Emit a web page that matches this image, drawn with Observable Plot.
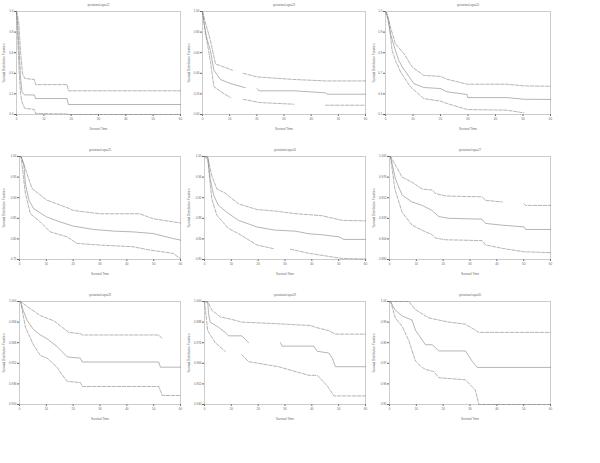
<!DOCTYPE html>
<html><head><meta charset="utf-8">
<script src="https://cdn.jsdelivr.net/npm/d3@7"></script>
<script src="https://cdn.jsdelivr.net/npm/@observablehq/plot@0.6"></script>
<style>
body{margin:0;background:#fff;}
#wrap{position:relative;width:600px;height:463px;overflow:hidden;}
.panel{position:absolute;}
</style></head><body><div id="wrap"></div>
<script>
// ---- data: [time, survival] pairs (null = gap in band) ----
const ages = [22, 23, 24, 25, 26, 27, 28, 29, 30];
const xTicks = [0, 10, 20, 30, 40, 50, 60];
const yLows = [0, 0, 0.5, 0.75, 0.80, 0.88, 0.92, 0.94, 0.95];
const yDigits = [1, 2, 1, 2, 2, 3, 3, 3, 2];

const surv22 = [[0,1],[0.5,0.85],[1,0.6],[1.5,0.35],[2,0.22],[3,0.19],[6.5,0.19],[7,0.155],[18.5,0.155],[19,0.097],[60,0.097]];
const upper22 = [[0,1],[0.8,0.9],[1.5,0.6],[2.2,0.4],[3,0.35],[6.5,0.34],[7,0.29],[18.5,0.29],[19,0.23],[60,0.23]];
const lower22 = [[0,1],[0.5,0.7],[1,0.4],[1.5,0.2],[2,0.12],[3,0.06],[6.5,0.05],[7,0.01],[18.5,0.005],[19,0],[60,0]];

const surv23 = [[0,1],[0.5,0.9],[1.5,0.75],[2.9,0.62],[4.2,0.43],[6.6,0.34],[10.3,0.30],[15.8,0.26],[17,null],[20.1,0.25],[20.7,0.23],[33.6,0.23],[45.3,0.21],[45.9,0.197],[60,0.197]];
const upper23 = [[0,1],[1,0.9],[2.9,0.72],[4.8,0.49],[8,0.46],[11,0.43],[12,null],[15,0.40],[20.1,0.365],[33.6,0.34],[45.3,0.326],[60,0.326]];
const lower23 = [[0,1],[1,0.8],[2.9,0.52],[4.2,0.27],[8,0.2],[10.3,0.165],[12,null],[15,0.148],[21,0.116],[33.6,0.1],[35,null],[45.3,0.09],[60,0.09]];

const surv24 = [[0,1],[0.6,0.98],[1.8,0.892],[3.6,0.811],[4.8,0.763],[6.1,0.731],[10.3,0.65],[13.9,0.631],[20,0.626],[22.4,0.61],[29.7,0.597],[29.9,0.582],[44.2,0.582],[50.3,0.574],[60,0.573]];
const upper24 = [[0,1],[0.6,0.99],[1.8,0.924],[3.6,0.844],[6.7,0.795],[9.7,0.731],[13.9,0.69],[20,0.685],[22.4,0.671],[29.7,0.647],[44.2,0.647],[50.3,0.639],[60,0.637]];
const lower24 = [[0,1],[1.2,0.956],[2.4,0.811],[3.6,0.763],[5.5,0.706],[9.1,0.634],[13.9,0.577],[20,0.565],[22.4,0.553],[29.7,0.524],[44.2,0.521],[50.3,0.508]];

const surv25 = [[0,1],[0.6,1],[1.6,0.982],[2.2,0.934],[3.5,0.894],[5.3,0.873],[10.2,0.853],[15.2,0.841],[20.1,0.831],[27.5,0.823],[34.9,0.819],[42.3,0.817],[49.8,0.813],[57.2,0.801],[60,0.797]];
const upper25 = [[0,1],[0.6,1],[2.8,0.958],[4.7,0.922],[10.2,0.894],[17.7,0.876],[20.1,0.869],[30,0.861],[44.8,0.861],[49.8,0.849],[59.6,0.839],[60,0.839]];
const lower25 = [[0,1],[0.6,0.998],[2.2,0.91],[4.1,0.861],[7.8,0.841],[11.5,0.817],[17.7,0.805],[21.4,0.789],[30,0.785],[42.3,0.781],[48.5,0.773],[57.2,0.765],[60,0.752]];

const surv26 = [[0,1],[1.2,0.999],[2.1,0.957],[3.4,0.925],[5.2,0.905],[9,0.889],[12.7,0.876],[19.6,0.863],[26.4,0.857],[33.9,0.855],[38.9,0.85],[43.8,0.848],[50.1,0.844],[51.9,0.839],[60,0.839]];
const upper26 = [[0,1],[1.2,0.999],[2.7,0.963],[4.6,0.937],[7.7,0.929],[12.7,0.908],[19.6,0.897],[26.4,0.894],[33.9,0.889],[43.8,0.885],[51.3,0.876],[60,0.875]];
const lower26 = [[0,1],[1.2,0.995],[2.7,0.918],[4.6,0.886],[9,0.86],[12.7,0.85],[19.6,0.828],[25.8,0.821],[28,null],[32,0.82],[38.9,0.812],[51.3,0.802],[60,0.801]];

const surv27 = [[0,1],[0.4,1],[2.2,0.974],[4.7,0.955],[8.4,0.947],[12.2,0.943],[15.9,0.937],[18.4,0.93],[22.1,0.928],[34.5,0.927],[35.8,0.922],[42,0.92],[50.1,0.918],[50.7,0.915],[60,0.915]];
const upper27 = [[0,1],[0.4,1],[4.7,0.976],[8.4,0.97],[12.2,0.962],[15.9,0.961],[17.1,0.957],[20.9,0.954],[34.5,0.953],[35.8,0.949],[42,0.947],[44,null],[50.1,0.945],[50.7,0.943],[60,0.943]];
const lower27 = [[0,1],[0.4,0.999],[2,0.962],[4.7,0.935],[8.4,0.92],[12.2,0.914],[15.9,0.909],[17.1,0.905],[20.9,0.903],[34.5,0.902],[35.8,0.897],[42,0.893],[50.1,0.889],[60,0.888]];

const surv28 = [[0,1],[0.4,1],[1.4,0.993],[2.9,0.985],[5.3,0.978],[7.8,0.974],[10.3,0.971],[14,0.965],[15.9,0.961],[17.8,0.957],[22.7,0.956],[23.4,0.953],[51.9,0.953],[52.5,0.949],[60,0.949]];
const upper28 = [[0,1],[0.4,1],[2.9,0.996],[7.8,0.989],[12.8,0.985],[15.9,0.98],[18.4,0.976],[22.7,0.975],[23.4,0.974],[51.9,0.974],[53.2,0.971]];
const lower28 = [[0,1],[0.4,1],[2.2,0.98],[5.3,0.966],[7.8,0.958],[10.3,0.956],[14,0.949],[15.9,0.943],[17.8,0.938],[22.7,0.937],[23.4,0.934],[51.9,0.934],[53.2,0.927],[60,0.927]];

const surv29 = [[0,1],[1.2,1],[1.5,0.993],[2.1,0.988],[5.2,0.985],[7.7,0.982],[9,0.98],[13.9,0.98],[16.4,0.976],[20,null],[28.3,0.976],[28.9,0.974],[40.7,0.974],[42,0.971],[46.3,0.97],[47.6,0.967],[48.8,0.962],[60,0.962]];
const upper29 = [[0,1],[1.5,0.999],[2.7,0.995],[5.9,0.991],[9,0.99],[13.9,0.988],[27.6,0.987],[39.5,0.986],[41.3,0.985],[46.3,0.983],[48.8,0.981],[60,0.981]];
const lower29 = [[0,1],[1.2,0.983],[4,0.976],[7.7,0.971],[10,null],[13.9,0.969],[16.4,0.965],[27.6,0.962],[38.9,0.957],[42,0.957],[45.7,0.951],[48.2,0.945],[60,0.945]];

const surv30 = [[0,1],[0.4,1],[2,0.996],[4.7,0.993],[8.4,0.991],[9.7,0.986],[13.4,0.979],[15.9,0.979],[18.4,0.976],[28.3,0.976],[30.8,0.971],[32.7,0.968],[60,0.968]];
const upper30 = [[0,1],[7.2,1],[9.7,0.996],[12.2,0.994],[14.7,0.992],[22.1,0.99],[28.3,0.989],[30.8,0.987],[33.3,0.985],[60,0.985]];
const lower30 = [[0,1],[0.4,1],[2.2,0.992],[4.7,0.988],[7.2,0.981],[9.7,0.971],[12.2,0.968],[13.4,0.967],[16.5,0.966],[18.4,0.963],[28.3,0.962],[32,0.957],[33.3,0.95],[60,0.95]];

const series = [
  [surv22, upper22, lower22], [surv23, upper23, lower23], [surv24, upper24, lower24],
  [surv25, upper25, lower25], [surv26, upper26, lower26], [surv27, upper27, lower27],
  [surv28, upper28, lower28], [surv29, upper29, lower29], [surv30, upper30, lower30]
];

// ---- layout ----
const colX = [0, 185, 370];
const rowY = [0, 145, 290];
const marginLefts = [16, 17, 15, 19, 19, 19, 19, 19, 19];
const font = "'Liberation Sans', Arial, sans-serif";
const ink = "#777";
const wrap = document.getElementById("wrap");

series.forEach(([surv, upper, lower], i) => {
  const row = Math.floor(i / 3), col = i % 3;
  const lo = yLows[i];
  const yt = d3.range(6).map(k => lo + k * (1 - lo) / 5);
  const ml = marginLefts[i];
  const line = (data, dashed) => Plot.line(data, {
    x: d => d[0], y: d => d[1], stroke: ink, strokeWidth: 0.55,
    strokeDasharray: dashed ? "3.5,1.5" : null
  });
  const chart = Plot.plot({
    width: 185, height: 145,
    marginLeft: ml, marginRight: 5, marginTop: 11, marginBottom: 31,
    style: {fontSize: "3px", fontFamily: font, color: "#666", background: "transparent"},
    x: {domain: [0, 60], ticks: xTicks, tickSize: 2, tickPadding: 1,
        label: "Survival Time", labelAnchor: "center", labelOffset: 15, labelArrow: "none"},
    y: {domain: [lo, 1], ticks: yt, tickFormat: d3.format(`.${yDigits[i]}f`), tickSize: 2, tickPadding: 1,
        label: "Survival Distribution Function", labelAnchor: "center", labelOffset: ml - 2, labelArrow: "none"},
    marks: [
      Plot.frame({stroke: "#aaa", strokeWidth: 0.6}),
      line(upper, true),
      line(lower, true),
      line(surv, false),
      Plot.text([`gestational age=${ages[i]}`], {frameAnchor: "top", dy: -7, fontSize: 2.6, fill: "#666"})
    ]
  });
  chart.classList.add("panel");
  chart.style.left = colX[col] + "px";
  chart.style.top = rowY[row] + "px";
  wrap.appendChild(chart);
});
</script>
</body></html>
